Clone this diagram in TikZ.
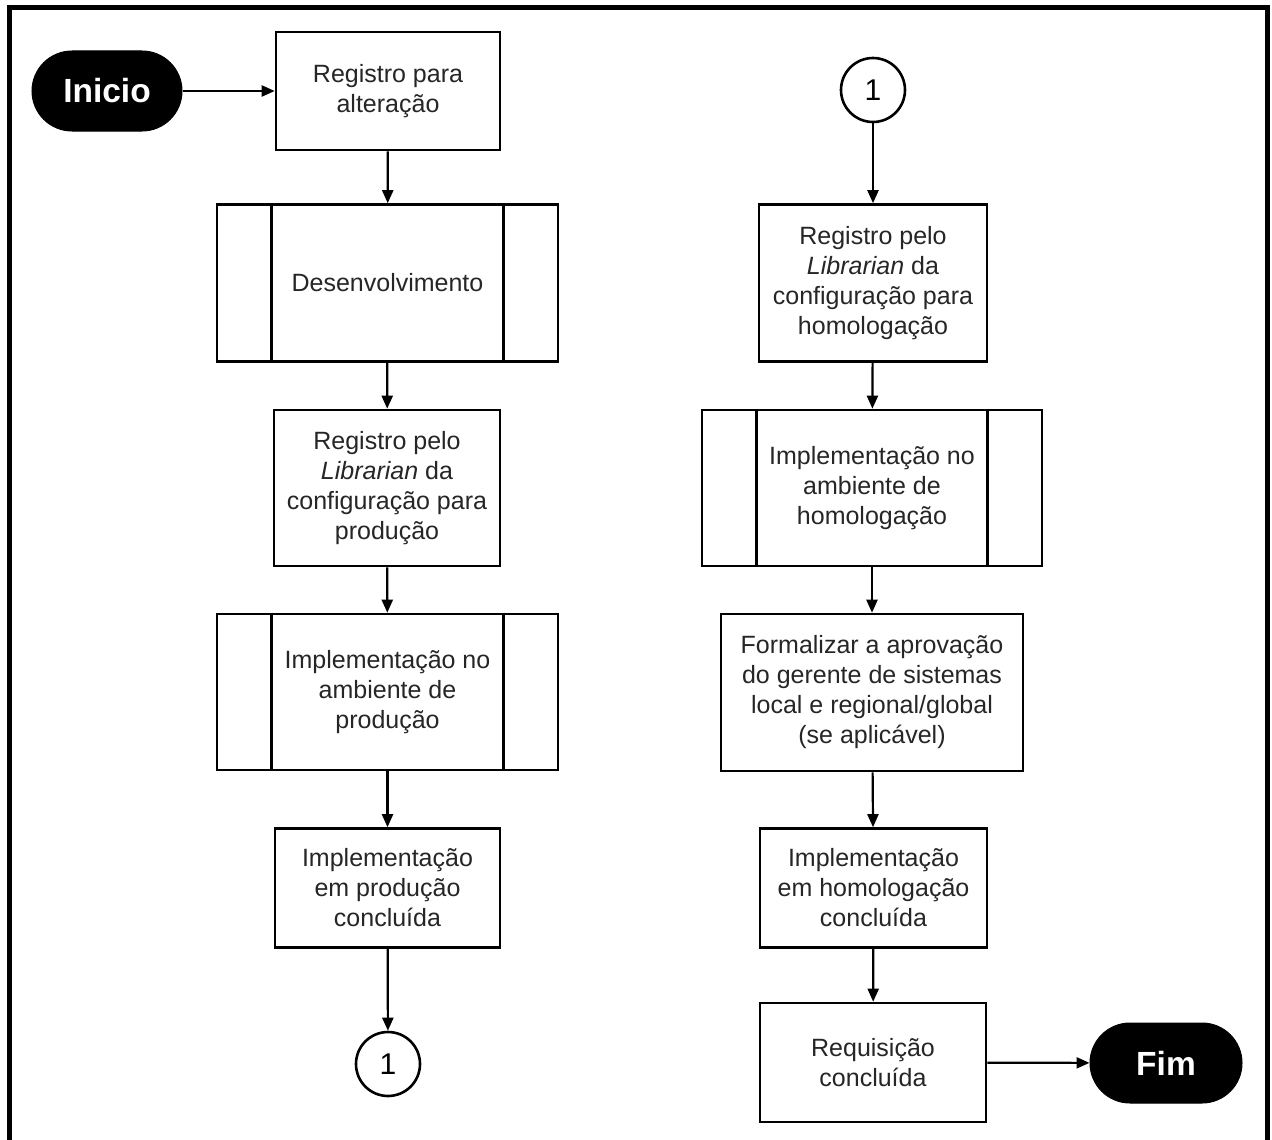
\documentclass[tikz,border=0pt]{standalone}
\usepackage{fontspec}
\setmainfont{Liberation Sans}
\usetikzlibrary{arrows.meta}
\begin{document}
\begin{tikzpicture}[x=1pt,y=-1pt,
  box/.style={draw=black, line width=2.6pt, fill=white, inner sep=0pt,
    align=center, text=black!85, font=\fontsize{25}{30}\selectfont},
  predef/.style={box},
  term/.style={draw=black, fill=black, line width=1pt, rounded corners=40pt,
    inner sep=0pt, minimum width=150pt, minimum height=80pt,
    text=white, font=\fontsize{33.5}{38}\selectfont\bfseries},
  conn/.style={circle, draw=black, line width=2.6pt, fill=white, inner sep=0pt,
    minimum size=64pt, font=\fontsize{30}{32}\selectfont},
  flow/.style={draw=black, line width=2.2pt,
    -{Triangle[length=13pt,width=11pt]}},
  bar/.style={draw=black, line width=2.6pt}
]
\useasboundingbox (0,0) rectangle (1272,1140);
% open frame around the chart
\draw[line width=5pt] (9.5,1140) -- (9.5,7.5) -- (1267.5,7.5) -- (1267.5,1140);

% left column
\node[term] (ini) at (107,91) {Inicio};
\node[box, minimum width=224pt, minimum height=118pt] (reg) at (388,91)
  {Registro para\\alteração};
\node[predef, minimum width=341pt, minimum height=157pt] (dev) at (387.5,283)
  {Desenvolvimento};
\node[box, minimum width=226pt, minimum height=156pt] (libp) at (387,488)
  {Registro pelo\\\textit{Librarian} da\\configuração para\\produção};
\node[predef, minimum width=341pt, minimum height=156pt] (impp) at (387.5,692)
  {Implementação no\\ambiente de\\produção};
\node[box, minimum width=225pt, minimum height=119pt] (concp) at (387.5,888)
  {Implementação\\em produção\\concluída};
\node[conn] (ca) at (388,1064) {1};

% right column
\node[conn] (cb) at (873,90) {1};
\node[box, minimum width=228pt, minimum height=157pt] (libh) at (873,283)
  {Registro pelo\\\textit{Librarian} da\\configuração para\\homologação};
\node[predef, minimum width=340pt, minimum height=156pt] (imph) at (872,488)
  {Implementação no\\ambiente de\\homologação};
\node[box, minimum width=302pt, minimum height=157pt] (form) at (872,692.5)
  {Formalizar a aprovação\\do gerente de sistemas\\local e regional/global\\(se aplicável)};
\node[box, minimum width=227pt, minimum height=119pt] (conch) at (873.5,888)
  {Implementação\\em homologação\\concluída};
\node[box, minimum width=226pt, minimum height=119pt] (req) at (873,1062.5)
  {Requisição\\concluída};
\node[term, minimum width=152pt] (fim) at (1166,1063) {Fim};

% side bars of the predefined-process boxes
\foreach \n in {dev,impp,imph}{
  \draw[bar] ([xshift=56pt]\n.north west) -- ([xshift=56pt]\n.south west);
  \draw[bar] ([xshift=-56pt]\n.north east) -- ([xshift=-56pt]\n.south east);
}

% connectors
\draw[flow] (ini) -- (reg);
\draw[flow] (reg) -- (dev);
\draw[flow] (dev) -- (libp);
\draw[flow] (libp) -- (impp);
\draw[flow] (impp) -- (concp);
\draw[flow] (concp) -- (ca);
\draw[flow] (cb) -- (libh);
\draw[flow] (libh) -- (imph);
\draw[flow] (imph) -- (form);
\draw[flow] (form) -- (conch);
\draw[flow] (conch) -- (req);
\draw[flow] (req) -- (fim);
\end{tikzpicture}
\end{document}
